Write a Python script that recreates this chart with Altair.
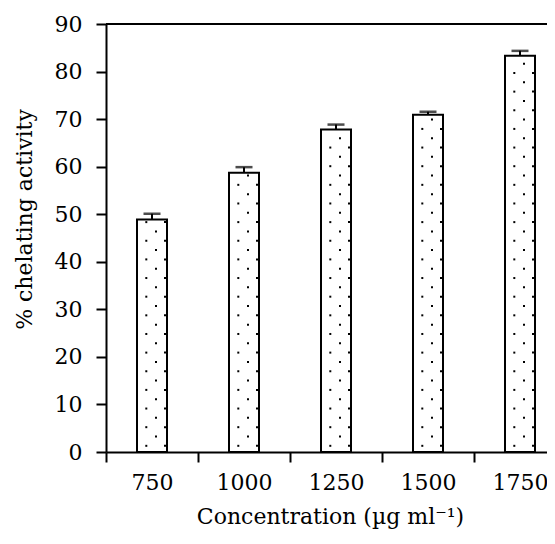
import altair as alt
import pandas as pd

categories = ["750", "1000", "1250", "1500", "1750"]
values = [48.9, 58.7, 67.8, 70.9, 83.3]
errors = [1.2, 1.2, 1.05, 0.65, 1.05]
y_ticks = [0, 10, 20, 30, 40, 50, 60, 70, 80, 90]

df = pd.DataFrame({"conc": categories, "value": values, "err": errors})
df["hi"] = df["value"] + df["err"]

FONT = "DejaVu Serif"
FS = 22
W, H = 460, 428

x_enc = alt.X("conc:N", sort=categories,
              scale=alt.Scale(paddingInner=0, paddingOuter=0),
              axis=alt.Axis(title="Concentration (µg ml⁻¹)", labelAngle=0, tickBand="extent",
                            tickSize=10, labelPadding=10, titlePadding=13,
                            domainColor="black", tickColor="black", domainWidth=2, tickWidth=2,
                            labelFont=FONT, labelFontSize=FS, labelColor="black",
                            titleFont=FONT, titleFontSize=FS, titleFontWeight="normal", titleColor="black",
                            titleX=224))
y_scale = alt.Scale(domain=[0, 90], nice=False)
y_axis = alt.Axis(title="% chelating activity", values=y_ticks, grid=False, tickSize=10,
                  labelPadding=14, titleX=-82, titleY=195, titleBaseline="middle", titleAngle=-90,
                  domainColor="black", tickColor="black", domainWidth=2, tickWidth=2,
                  labelFont=FONT, labelFontSize=FS, labelColor="black",
                  titleFont=FONT, titleFontSize=FS, titleFontWeight="normal", titleColor="black")

base = alt.Chart(df)

bars = base.mark_bar(size=30, fill="white", stroke="black", strokeWidth=2).encode(
    x=x_enc,
    y=alt.Y("value:Q", scale=y_scale, axis=y_axis),
)

dots = base.transform_calculate(
    idx="sequence(0, floor((datum.value - 1.8) / 1.96) + 1)"
).transform_flatten(["idx"], as_=["row"]).transform_calculate(
    yv="1.3 + datum.row * 1.96",
    off="datum.row % 2 == 0 ? [-5.7, 13] : [4]",
).transform_flatten(["off"], as_=["offv"]).mark_square(size=4, color="black", opacity=1).encode(
    x=alt.X("conc:N", sort=categories),
    xOffset=alt.XOffset("offv:Q", scale=alt.Scale(domain=[-W / 10, W / 10], range=[0, W / 5])),
    y=alt.Y("yv:Q", scale=y_scale),
)

err_rule = base.mark_rule(color="black", strokeWidth=2).encode(
    x=alt.X("conc:N", sort=categories),
    y=alt.Y("value:Q", scale=y_scale),
    y2="hi:Q",
)
err_cap = base.mark_tick(color="black", size=17, thickness=2.5).encode(
    x=alt.X("conc:N", sort=categories),
    y=alt.Y("hi:Q", scale=y_scale),
)

top_line = alt.Chart(pd.DataFrame({"y": [90]})).mark_rule(color="black", strokeWidth=2).encode(
    y=alt.Y("y:Q", scale=y_scale),
)

chart = alt.layer(bars, dots, err_rule, err_cap, top_line).properties(
    width=W, height=H,
    padding={"left": 5, "top": 5, "right": -20, "bottom": 3},
).configure_view(stroke=None).configure(background="white")

chart.save("out.html", embed_options={"renderer": "svg", "actions": False})
